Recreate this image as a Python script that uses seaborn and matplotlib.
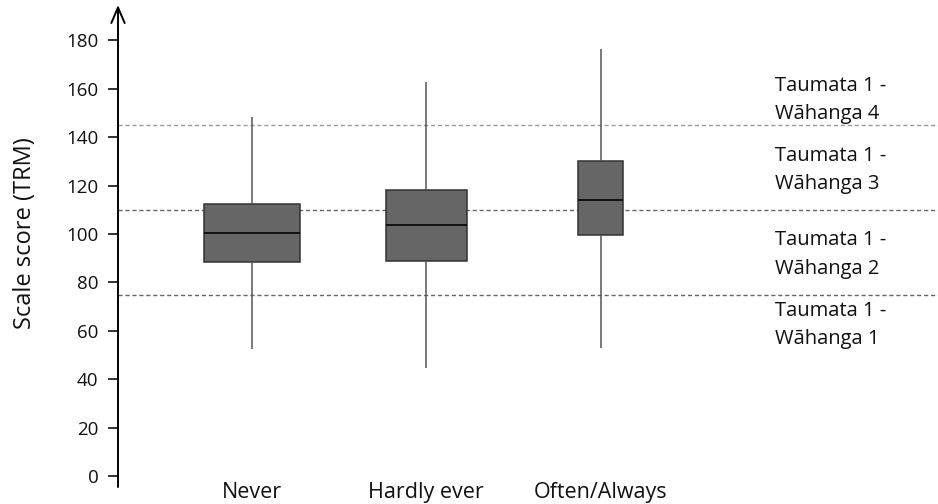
import matplotlib
matplotlib.use("Agg")
import matplotlib.pyplot as plt
import seaborn as sns
import pandas as pd

# ---- data ----
categories = ["Never", "Hardly ever", "Often/Always"]
whisker_low = [52.5, 44.8, 53.0]
q1 = [88.5, 88.9, 99.5]
median = [100.5, 103.6, 113.9]
q3 = [112.4, 118.3, 130.1]
whisker_high = [148.4, 162.6, 176.4]

band_cutoffs = [75, 110, 145]
band_labels = ["Taumata 1 -\nWāhanga 1", "Taumata 1 -\nWāhanga 2",
               "Taumata 1 -\nWāhanga 3", "Taumata 1 -\nWāhanga 4"]
band_label_y = [62.5, 91.5, 126.5, 155.5]

y_ticks = list(range(0, 181, 20))

# five-number summaries -> long table (whiskers span min..max)
rows = []
for c, lo, a, m, b, hi in zip(categories, whisker_low, q1, median, q3, whisker_high):
    for v in (lo, a, m, b, hi):
        rows.append({"group": c, "score": v})
df = pd.DataFrame(rows)

sns.set_theme(style="white")
plt.rcParams["font.family"] = ["Open Sans", "DejaVu Sans"]

fig = plt.figure(figsize=(9.38, 5.04), dpi=100)
ax = fig.add_axes([118 / 938, 17 / 504, 1 - 118 / 938, 482 / 504])

box_widths = [0.556, 0.465, 0.258]
for c, w in zip(categories, box_widths):
    sns.boxplot(data=df[df["group"] == c], x="group", y="score", order=categories,
                width=w, whis=(0, 100), showcaps=False, fliersize=0,
                color="#666666", saturation=1, linecolor="#333333", linewidth=1.1,
                medianprops=dict(color="#111111", linewidth=1.4),
                whiskerprops=dict(color="#555555", linewidth=1.1),
                ax=ax)

for i, v in enumerate(band_cutoffs):
    ax.axhline(v, color="#999999" if i == 2 else "#666666", lw=1,
               ls=(0, (3, 2)), zorder=0.5)

for lab, yv in zip(band_labels, band_label_y):
    ax.text(0.801, yv, lab, transform=ax.get_yaxis_transform(), ha="left",
            va="center", fontsize=14.5, color="#111111", linespacing=1.55)

ax.set_xlim(-0.769, 3.936)
ax.set_ylim(-4.5, 194.6)
ax.set_yticks(y_ticks)
ax.set_yticklabels([str(t) for t in y_ticks], fontsize=13.5, color="#111111")
ax.set_xticks(range(len(categories)))
ax.set_xticklabels([])
for i, c in enumerate(categories):
    ax.text(i, -9.2, c, ha="center", va="baseline", fontsize=15.5,
            color="#111111", clip_on=False)
ax.tick_params(axis="x", length=0, pad=0)
ax.tick_params(axis="y", left=True, length=7, width=1.3, color="#222222", pad=7)
ax.set_xlabel("")
ax.set_ylabel("")
for s in ax.spines.values():
    s.set_visible(False)

ax.annotate("", xy=(0, 1), xytext=(0, 0), xycoords="axes fraction",
            textcoords="axes fraction",
            arrowprops=dict(arrowstyle="->,head_length=0.7,head_width=0.3",
                            lw=1.4, color="black", shrinkA=0, shrinkB=0,
                            mutation_scale=16))

fig.text(25 / 938, 1 - 233 / 504, "Scale score (TRM)", rotation=90,
         ha="center", va="center", fontsize=17, color="#111111")

fig.savefig("out.png", dpi=100)
